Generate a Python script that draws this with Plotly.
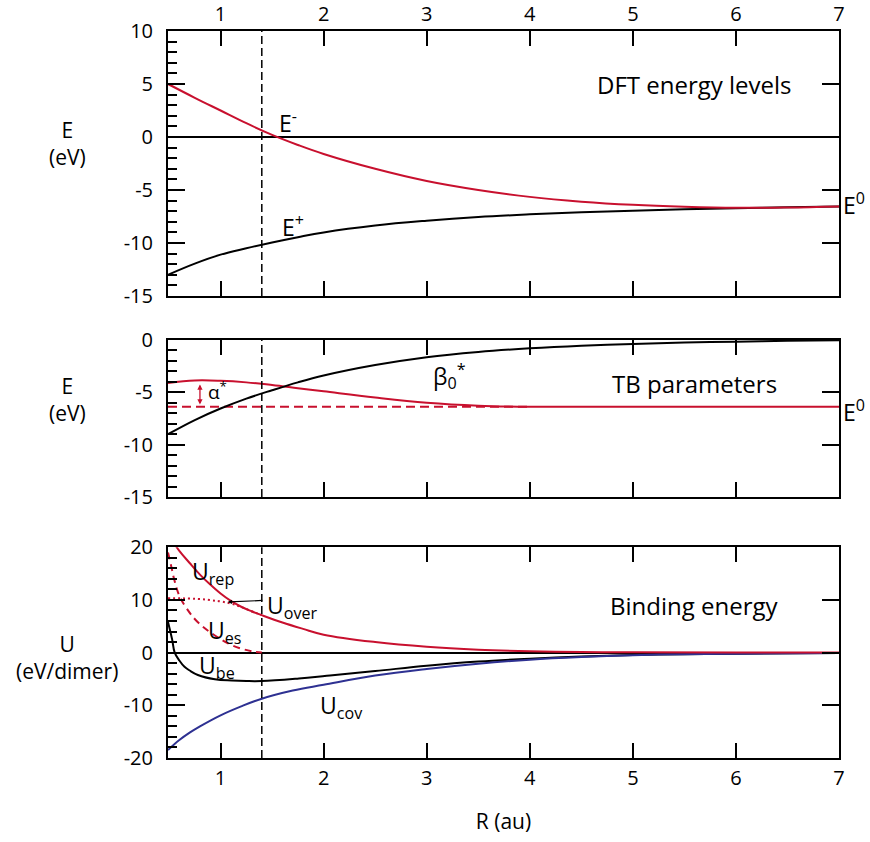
import plotly.graph_objects as go

RED = "#C8102E"
BLUE = "#2E3192"
FONT = "Open Sans"

# ---------------- data ----------------
# Panel 1: DFT energy levels
R_dft = [0.49, 0.75, 1.0, 1.25, 1.5, 1.75, 2.0, 2.5, 3.0, 3.5, 4.0, 4.5, 5.0, 5.5, 6.0, 6.5, 7.0]
E_minus = [5.0, 3.7, 2.5, 1.3, 0.2, -0.75, -1.6, -3.0, -4.15, -5.0, -5.65, -6.1, -6.4, -6.58, -6.68, -6.65, -6.55]
E_plus = [-13.0, -11.95, -11.1, -10.5, -9.95, -9.45, -9.0, -8.35, -7.9, -7.55, -7.3, -7.1, -6.95, -6.82, -6.72, -6.63, -6.55]

# Panel 2: TB parameters
R_tb = [0.49, 0.75, 1.0, 1.25, 1.5, 1.75, 2.0, 2.5, 3.0, 3.5, 4.0, 4.5, 5.0, 5.5, 6.0, 6.5, 7.0]
alpha = [-4.1, -3.87, -3.9, -4.05, -4.3, -4.6, -4.9, -5.5, -6.0, -6.28, -6.38, -6.38, -6.38, -6.38, -6.38, -6.38, -6.38]
beta0 = [-9.0, -7.65, -6.55, -5.6, -4.8, -4.05, -3.4, -2.4, -1.65, -1.15, -0.8, -0.55, -0.38, -0.25, -0.16, -0.08, -0.03]
R_e0 = [0.49, 4.0]
E0_tb = [-6.38, -6.38]

# Panel 3: Binding energy
R_rep = [0.49, 0.6, 0.7, 0.8, 0.9, 1.0, 1.1, 1.2, 1.3, 1.4, 1.6, 1.8, 2.0, 2.5, 3.0, 3.5, 4.0, 4.5, 5.0, 6.0, 7.0]
U_rep = [22.5, 19.3, 17.0, 14.8, 12.9, 11.2, 9.8, 8.7, 7.85, 7.1, 5.7, 4.5, 3.4, 2.0, 1.1, 0.55, 0.25, 0.1, 0.04, 0.0, 0.0]
R_over = [0.49, 0.6, 0.7, 0.8, 0.9, 1.0, 1.1, 1.2, 1.3, 1.4]
U_over = [10.3, 10.3, 10.25, 10.15, 9.95, 9.7, 9.3, 8.65, 7.85, 7.1]
R_es = [0.49, 0.52, 0.55, 0.6, 0.67, 0.78, 0.945, 1.11, 1.3, 1.4]
U_es = [19.0, 16.5, 13.9, 10.8, 8.4, 5.75, 3.25, 1.4, 0.25, 0.0]
R_be = [0.49, 0.53, 0.555, 0.6, 0.65, 0.7, 0.78, 0.945, 1.11, 1.25, 1.4, 1.76, 2.03, 2.5, 3.0, 3.5, 4.0, 4.5, 5.0, 5.5, 6.0, 7.0]
U_be = [5.8, 2.5, 0.0, -1.5, -2.7, -3.4, -4.25, -5.06, -5.3, -5.4, -5.4, -4.9, -4.4, -3.5, -2.5, -1.7, -1.15, -0.75, -0.45, -0.3, -0.2, -0.1]
R_cov = [0.49, 0.6, 0.7, 0.8, 1.0, 1.2, 1.4, 1.7, 2.0, 2.5, 3.0, 3.5, 4.0, 4.5, 5.0, 5.5, 6.0, 7.0]
U_cov = [-18.5, -16.6, -15.2, -14.0, -11.9, -10.2, -8.75, -7.2, -6.1, -4.35, -3.1, -2.1, -1.35, -0.85, -0.5, -0.3, -0.2, -0.1]

R_eq = 1.4
x_ticks = [1, 2, 3, 4, 5, 6, 7]
y_ticks_E = [-15, -10, -5, 0, 5, 10]
y_ticks_U = [-20, -10, 0, 10, 20]

# ---------------- figure ----------------
fig = go.Figure()

def line(x, y, xa, ya, color, dash="solid", width=2):
    fig.add_trace(go.Scatter(x=x, y=y, xaxis=xa, yaxis=ya, mode="lines",
                             line=dict(color=color, width=width, dash=dash, shape="spline", smoothing=1.1),
                             hoverinfo="skip", showlegend=False))

# Panel 1
line(R_dft, E_plus, "x", "y", "black")
line(R_dft, E_minus, "x", "y", RED)
# Panel 2
line(R_e0, E0_tb, "x2", "y2", RED, dash="9px,5px")
line(R_tb, alpha, "x2", "y2", RED)
line(R_tb, beta0, "x2", "y2", "black")
# Panel 3
line(R_be, U_be, "x3", "y3", "black")
line(R_cov, U_cov, "x3", "y3", BLUE)
line(R_es, U_es, "x3", "y3", RED, dash="7px,5px")
line(R_over, U_over, "x3", "y3", RED, dash="2px,3px")
line(R_rep, U_rep, "x3", "y3", RED)
# dummy traces for right-side overlay axes
for ya, xa in (("y4", "x"), ("y5", "x2"), ("y6", "x3")):
    fig.add_trace(go.Scatter(x=[None], y=[None], xaxis=xa, yaxis=ya, showlegend=False, hoverinfo="skip"))

tickfont = dict(family=FONT, size=20, color="black")

def xax(anchor, labels, side="bottom", title=None, standoff=4):
    d = dict(anchor=anchor, domain=[0, 1], range=[0.49, 7.0], tickvals=x_ticks,
             ticks="inside", ticklen=15, tickwidth=2, tickcolor="black",
             showline=True, linewidth=2, linecolor="black", mirror="ticks",
             showgrid=False, zeroline=False, showticklabels=labels, side=side,
             tickfont=tickfont, ticklabelstandoff=standoff, automargin=False)
    if title:
        d["title"] = dict(text=title, font=dict(family=FONT, size=21, color="black"), standoff=24)
    return d

def yax(anchor, domain, rng, tickvals, minor_dtick, zeroline=True):
    return dict(anchor=anchor, domain=domain, range=rng, tickvals=tickvals,
                ticktext=[str(v) for v in tickvals],
                ticks="inside", ticklen=17, tickwidth=2, tickcolor="black",
                minor=dict(ticks="inside", ticklen=9, tickwidth=1.5, tickcolor="black", dtick=minor_dtick,
                           tick0=0, showgrid=False),
                showline=True, linewidth=2, linecolor="black",
                showgrid=False, zeroline=zeroline, zerolinecolor="black", zerolinewidth=1.5,
                tickfont=tickfont, ticklabelstandoff=9, automargin=False)

def yright(over, anchor, rng, tickvals):
    return dict(overlaying=over, anchor=anchor, side="right", range=rng, tickvals=tickvals,
                ticks="inside", ticklen=17, tickwidth=2, tickcolor="black",
                showline=True, linewidth=2, linecolor="black", showticklabels=False,
                showgrid=False, zeroline=False, automargin=False)

d1 = [0.6355, 1.0]
d2 = [0.359, 0.575]
d3 = [0.0, 0.290]

fig.update_layout(
    width=870, height=842,
    margin=dict(l=168, r=31, t=31, b=84),
    paper_bgcolor="white", plot_bgcolor="white",
    font=dict(family=FONT, size=18, color="black"),
    showlegend=False,
    xaxis=xax("y", True, side="top", standoff=0),
    xaxis2=xax("y2", False),
    xaxis3=xax("y3", True, title="R (au)", standoff=1),
    yaxis=yax("x", d1, [-15, 10], y_ticks_E, 1),
    yaxis2=yax("x2", d2, [-15, 0], y_ticks_E, 1, zeroline=False),
    yaxis3=yax("x3", d3, [-20, 20], y_ticks_U, 2),
    yaxis4=yright("y", "x", [-15, 10], y_ticks_E),
    yaxis5=yright("y2", "x2", [-15, 0], y_ticks_E),
    yaxis6=yright("y3", "x3", [-20, 20], y_ticks_U),
)

# dashed equilibrium line in each panel
for xr, yr in (("x", "y"), ("x2", "y2"), ("x3", "y3")):
    fig.add_shape(type="line", xref=xr, yref=yr + " domain", x0=R_eq, x1=R_eq, y0=0, y1=1,
                  line=dict(color="black", width=1.5, dash="8px,4px"))

def label(text, x, y, xr, yr, xanchor="left", size=23, xshift=0):
    fig.add_annotation(text=text, x=x, y=y, xref=xr, yref=yr, showarrow=False, xshift=xshift,
                       xanchor=xanchor, yanchor="middle", font=dict(family=FONT, size=size, color="black"))

# y-axis titles
label("E<br>(eV)", -0.15, -0.6, "paper", "y", xanchor="center", size=21)
label("E<br>(eV)", -0.15, -5.7, "paper", "y2", xanchor="center", size=21)
label("U<br>(eV/dimer)", -0.15, -1.0, "paper", "y3", xanchor="center", size=21)

# panel 1 labels
label("DFT energy levels", 5.6, 5.0, "x", "y", xanchor="center", size=24)
label("E<sup>-</sup>", 1.55, 1.4, "x", "y")
label("E<sup>+</sup>", 1.58, -8.4, "x", "y")
label("E<sup>0</sup>", 1.0, -6.3, "paper", "y", xshift=2)

# panel 2 labels
label("TB parameters", 5.6, -4.2, "x2", "y2", xanchor="center", size=24)
label("β<sub>0</sub><sup>*</sup>", 3.04, -3.4, "x2", "y2")
label("α<sup>*</sup>", 0.86, -4.9, "x2", "y2", size=19)
label("E<sup>0</sup>", 1.0, -6.75, "paper", "y2", xshift=2)
fig.add_annotation(x=0.8, y=-4.25, ax=0.8, ay=-6.3, xref="x2", yref="y2", axref="x2", ayref="y2",
                   text="", showarrow=True, arrowhead=2, arrowside="end+start", arrowsize=0.8,
                   arrowwidth=1.3, arrowcolor=RED)

# panel 3 labels
label("Binding energy", 5.6, 8.9, "x3", "y3", xanchor="center", size=24)
label("U<sub>rep</sub>", 0.70, 15.2, "x3", "y3")
label("U<sub>es</sub>", 0.86, 4.0, "x3", "y3")
label("U<sub>be</sub>", 0.77, -2.6, "x3", "y3")
label("U<sub>cov</sub>", 1.95, -10.2, "x3", "y3")
label("U<sub>over</sub>", 1.43, 8.8, "x3", "y3")
fig.add_annotation(x=1.07, y=9.6, ax=1.42, ay=9.9, xref="x3", yref="y3", axref="x3", ayref="y3",
                   text="", showarrow=True, arrowhead=2, arrowsize=0.7, arrowwidth=1.2,
                   arrowcolor="black")

fig.write_html("out.html", config={"displayModeBar": False},
               post_script="document.body.style.margin='0px';")
